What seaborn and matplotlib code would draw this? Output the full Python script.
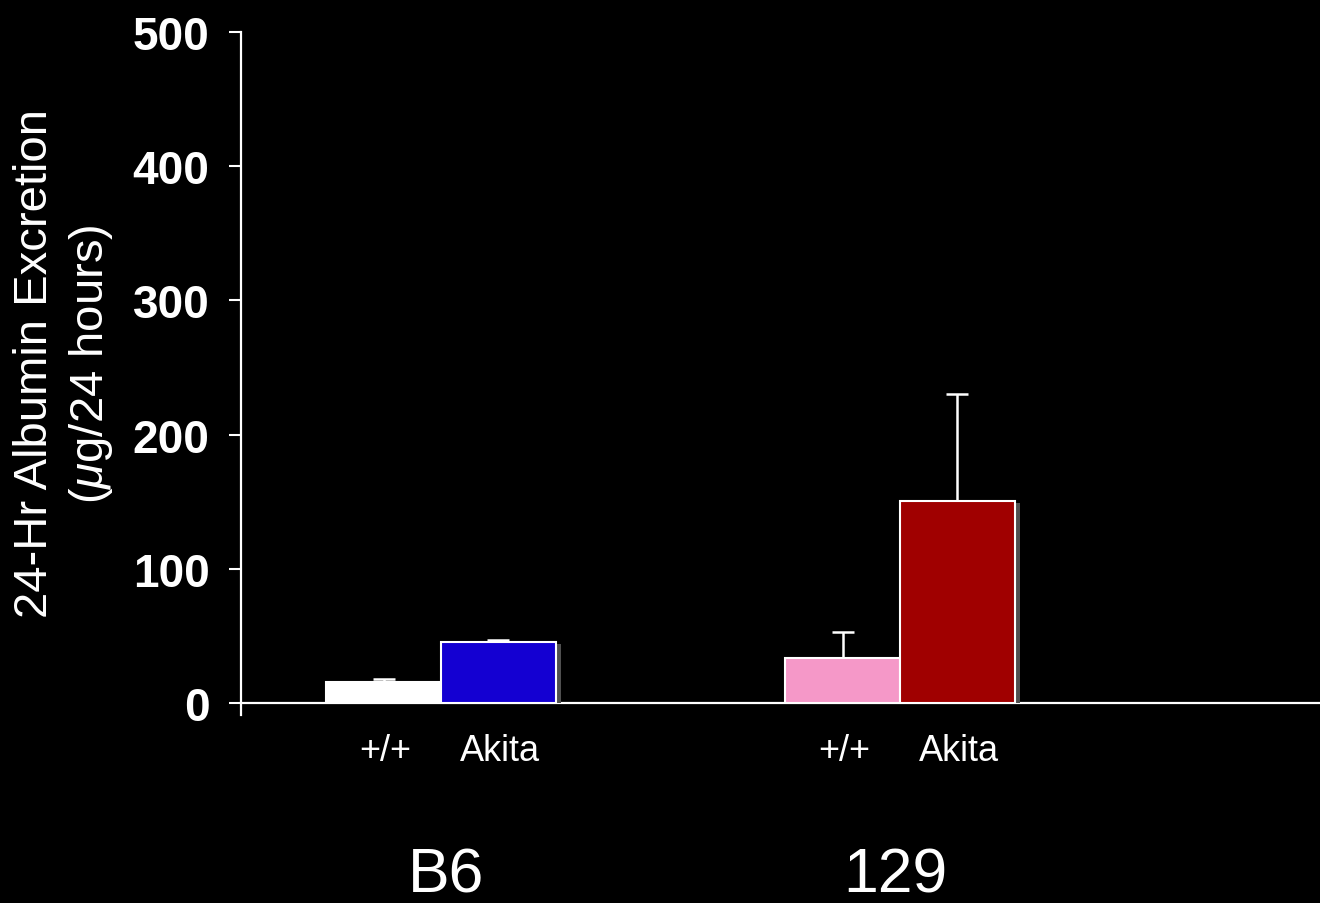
import matplotlib
matplotlib.use("Agg")
import matplotlib.pyplot as plt
import matplotlib.patheffects as pe
import seaborn as sns
import pandas as pd

# Strain groups and genotypes
strains = ["B6", "129"]
genotypes = ["+/+", "Akita"]

# Mean 24-hr albumin excretion (µg/24 h) and upper error (SE)
b6_means = [15.6, 45.2]
b6_errors = [2.3, 2.0]
s129_means = [33.3, 150.3]
s129_errors = [19.8, 80.0]

bar_colors = ["#FFFFFF", "#1400D2", "#F598C8", "#A00000"]

rows = []
for strain, means, errs in [("B6", b6_means, b6_errors), ("129", s129_means, s129_errors)]:
    for g, m, e in zip(genotypes, means, errs):
        rows.append({"strain": strain, "genotype": g, "albumin": m, "err": e})
df = pd.DataFrame(rows)

sns.set_theme(style="white")
plt.rcParams["font.family"] = ["Liberation Sans", "DejaVu Sans"]
plt.rcParams["mathtext.fontset"] = "custom"
plt.rcParams["mathtext.rm"] = "Liberation Sans"
plt.rcParams["mathtext.it"] = "Liberation Sans:italic"

fig = plt.figure(figsize=(13.2, 9.04), dpi=100, facecolor="black")
ax = fig.add_axes([241 / 1320, 1 - 704 / 904, 1 - 241 / 1320, (704 - 33) / 904])
ax.set_facecolor("black")

sns.barplot(data=df, x="strain", y="albumin", hue="genotype",
            order=strains, hue_order=genotypes, width=0.5, gap=0,
            errorbar=None, ax=ax, legend=False, edgecolor="white",
            linewidth=1.5, zorder=3)

# Bars sorted left to right: B6 +/+, B6 Akita, 129 +/+, 129 Akita
bars = sorted(ax.patches, key=lambda p: p.get_x())
centers = [p.get_x() + p.get_width() / 2 for p in bars]
for p, col in zip(bars, bar_colors):
    p.set_facecolor(col)
    p.set_path_effects([pe.SimplePatchShadow(offset=(4, -1), shadow_rgbFace="#505050", alpha=1.0),
                        pe.Normal()])

# Upper-only error bars
all_means = b6_means + s129_means
all_errs = b6_errors + s129_errors
for c, m, e in zip(centers, all_means, all_errs):
    ax.errorbar(c, m, yerr=[[0], [e]], fmt="none", ecolor="white",
                elinewidth=1.8, capsize=8, capthick=1.8, zorder=2)

ax.set_ylim(0, 500)
ax.set_xlim(-0.4357, 1.915)
ax.set_yticks([0, 100, 200, 300, 400, 500])
ax.set_yticklabels(["0", "100", "200", "300", "400", "500"],
                   fontsize=33, fontweight="bold", color="white")
ax.tick_params(axis="y", length=8.6, width=1.5, color="white", pad=14, left=True)
ax.tick_params(axis="x", bottom=False, labelbottom=False)
ax.set_xlabel("")
ax.set_ylabel("")

for side in ["top", "right"]:
    ax.spines[side].set_visible(False)
for side in ["left", "bottom"]:
    ax.spines[side].set_color("white")
    ax.spines[side].set_linewidth(1.6)
ax.spines["left"].set_bounds(-9, 500)

# Genotype labels under each bar
for c, g in zip(centers, genotypes * 2):
    ax.annotate(g, xy=(c, 0), xycoords="data", xytext=(1, -34.5),
                textcoords="offset points", ha="center", va="center",
                fontsize=26, color="white", annotation_clip=False)

# Strain labels
for i, (s, dx) in enumerate(zip(strains, [4, -3])):
    ax.annotate(s, xy=(i, 0), xycoords="data", xytext=(dx, -124),
                textcoords="offset points", ha="center", va="center",
                fontsize=45, color="white", annotation_clip=False)

fig.text(64 / 1320, 1 - 364 / 904,
         "24-Hr Albumin Excretion\n($\\mu$g/24 hours)",
         rotation=90, ha="center", va="center", fontsize=34,
         color="white", linespacing=1.3, multialignment="center")

fig.savefig("out.png", dpi=100, facecolor="black")
